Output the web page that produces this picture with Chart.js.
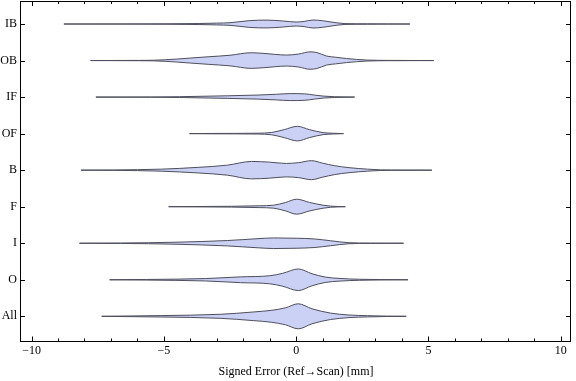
<!DOCTYPE html>
<html>
<head>
<meta charset="utf-8">
<script src="https://cdn.jsdelivr.net/npm/chart.js@4/dist/chart.umd.min.js"></script>
<style>
html,body{margin:0;padding:0;background:#fff;}
#c{display:block;}
</style>
</head>
<body>
<canvas id="c" width="576" height="381"></canvas>
<script>
// ---- data ----
const categories = ['IB','OB','IF','OF','B','F','I','O','All'];
const xTickLabels = [-10,-5,0,5,10];
const xTitle = 'Signed Error (Ref\u2192Scan) [mm]';

// each violin: error values (x) and estimated density (half-width) at those values
const ibX = [-8.78,-6.5,-4.96,-3.7,-3.0,-2.5,-1.75,-1.1,-0.5,0.0,0.3,0.64,1.0,1.28,1.85,2.7,3.5,4.30];
const ibD = [0,0.05,0.2,0.5,0.9,1.3,3.4,3.9,3.0,2.0,2.6,4.0,3.3,2.2,0.4,0.2,0.05,0];
const obX = [-7.77,-6.5,-5.4,-4.5,-4.0,-3.3,-2.5,-1.7,-1.25,-0.36,0.1,0.52,0.78,1.15,1.5,1.91,2.67,3.5,5.20];
const obD = [0,0.1,0.3,1.5,2.5,3.8,5.3,7.8,7.2,5.5,6.5,8.7,8.0,4.5,3.3,2.0,0.5,0.15,0];
const ifX = [-7.57,-5.5,-4.4,-2.59,-1.48,-0.75,-0.2,0.33,0.7,1.02,1.44,2.21];
const ifD = [0,0.1,0.4,1.3,2.0,2.8,3.5,3.2,2.0,1.0,0.4,0];
const ofX = [-4.03,-3.15,-1.48,-0.92,-0.45,0.05,0.5,1.02,1.4,1.79];
const ofD = [0,0.2,0.4,1.2,4.0,7.3,4.0,1.0,0.4,0];
const bX = [-8.13,-6.9,-5.1,-3.7,-2.6,-1.69,-1.0,-0.37,0.1,0.58,1.0,1.44,2.0,2.70,3.19,4.0,5.13];
const bD = [0,0.2,1.0,2.8,5.0,8.7,8.0,6.7,7.5,9.5,7.0,4.5,2.5,1.0,0.3,0.1,0];
const fX = [-4.82,-2.45,-1.4,-0.85,-0.4,0.02,0.5,1.02,1.30,1.86];
const fD = [0,0.4,0.9,1.5,4.2,7.5,4.3,1.5,0.6,0];
const iX = [-8.19,-6.63,-4.54,-2.59,-1.48,-0.85,0.0,0.68,1.30,2.00,2.8,4.06];
const iD = [0,0.2,1.0,2.7,4.5,5.3,5.0,4.3,2.5,0.5,0.15,0];
const oX = [-7.05,-5.66,-3.43,-2.1,-1.0,-0.5,0.08,0.6,1.1,1.66,2.4,3.2,4.23];
const oD = [0,0.3,1.2,2.9,4.0,6.5,10.8,6.0,2.7,1.3,0.5,0.2,0];
const allX = [-7.35,-5.1,-2.87,-1.62,-0.92,-0.4,0.08,0.6,1.3,2.0,2.7,3.4,4.16];
const allD = [0,0.7,2.0,4.3,6.0,8.5,12.5,7.5,3.2,1.3,0.6,0.2,0];

const violinX = [ibX,obX,ifX,ofX,bX,fX,iX,oX,allX];
const violinD = [ibD,obD,ifD,ofD,bD,fD,iD,oD,allD];

// ---- styling ----
const densityScale = 1/36.5;
const fillColor = 'rgb(203,209,245)';
const lineColor = 'rgb(78,78,92)';
const font = {family:'"Liberation Serif", "Times New Roman", serif', size:12};
const nCat = categories.length;
const catPos = i => nCat - i;

const datasets = [];
categories.forEach((c,i)=>{
  const xs = violinX[i], ds = violinD[i], p = catPos(i);
  const common = {borderColor:lineColor, borderWidth:1, pointRadius:0, cubicInterpolationMode:'monotone', backgroundColor:fillColor};
  datasets.push(Object.assign({label:c+' upper', data: xs.map((x,j)=>({x, y: p + ds[j]*densityScale})), fill:false}, common));
  datasets.push(Object.assign({label:c+' lower', data: xs.map((x,j)=>({x, y: p - ds[j]*densityScale})), fill:'-1'}, common));
});

const framePlugin = {
  id:'frame',
  beforeDraw(chart){
    const ctx = chart.ctx;
    ctx.save(); ctx.fillStyle='#fff'; ctx.fillRect(0,0,chart.width,chart.height); ctx.restore();
  },
  afterDraw(chart){
    const {ctx, chartArea:{left,right,top,bottom}, scales:{x,y}} = chart;
    ctx.save();
    ctx.strokeStyle='#000'; ctx.lineWidth=1;
    ctx.strokeRect(left-0.5, top+0.5, right-left, bottom-top);
    ctx.beginPath();
    for (let v = xTickLabels[0]; v <= xTickLabels[xTickLabels.length-1]; v++) {
      const px = Math.round(x.getPixelForValue(v)) + 0.5;
      const len = (v % 5 === 0) ? 4.5 : 2.5;
      ctx.moveTo(px, bottom); ctx.lineTo(px, bottom - len);
      ctx.moveTo(px, top); ctx.lineTo(px, top + len + 0.5);
    }
    categories.forEach((c,i)=>{
      const py = Math.round(y.getPixelForValue(catPos(i))) + 0.5;
      ctx.moveTo(left-1, py); ctx.lineTo(left+4, py);
      ctx.moveTo(right-1, py); ctx.lineTo(right-5, py);
    });
    ctx.stroke();
    ctx.restore();
  }
};

new Chart(document.getElementById('c'), {
  type:'line',
  data:{datasets},
  options:{
    responsive:false,
    animation:false,
    devicePixelRatio:1,
    layout:{padding:{left:0,right:5,top:1,bottom:0}},
    plugins:{legend:{display:false}, tooltip:{enabled:false}},
    elements:{line:{tension:0.4}},
    scales:{
      x:{
        type:'linear', min:-10.4, max:10.39,
        grid:{display:false, drawTicks:false}, border:{display:false},
        afterBuildTicks: s => { s.ticks = xTickLabels.map(v=>({value:v})); },
        afterFit: s => { s.height = 40; s.paddingLeft = 0; s.paddingRight = 0; },
        ticks:{font, color:'#000', padding:3, maxRotation:0, autoSkip:false,
          callback: v => v < 0 ? '\u2212' + Math.abs(v) : String(v)},
        title:{display:true, text:xTitle, font, color:'#000', padding:{top:0,bottom:2}}
      },
      y:{
        type:'linear', min:0.324, max:9.63,
        grid:{display:false, drawTicks:false}, border:{display:false},
        afterBuildTicks: s => { s.ticks = categories.map((c,i)=>({value:catPos(i)})); },
        afterFit: s => { s.width = 21; s.paddingTop = 0; s.paddingBottom = 0; },
        ticks:{font, color:'#000', padding:4, autoSkip:false,
          callback: v => categories[nCat - v]}
      }
    }
  },
  plugins:[framePlugin]
});
</script>
</body>
</html>
